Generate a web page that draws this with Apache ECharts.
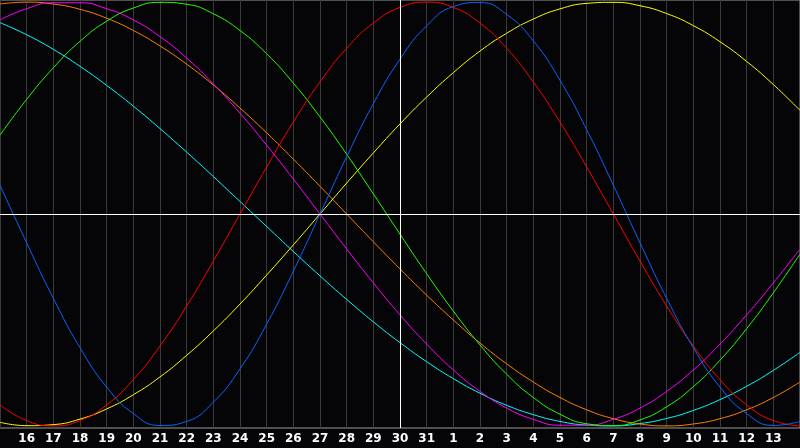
<!DOCTYPE html>
<html>
<head>
<meta charset="utf-8">
<script src="https://cdn.jsdelivr.net/npm/echarts@6/dist/echarts.min.js"></script>
<style>
html,body{margin:0;padding:0;background:#050507;}
#c{width:800px;height:448px;}
</style>
</head>
<body>
<div id="c"></div>
<script>
// Day labels (15th of one month to 14th of the next)
const days = ['15','16','17','18','19','20','21','22','23','24','25','26','27','28','29','30','31',
  '1','2','3','4','5','6','7','8','9','10','11','12','13','14'];
const today = '30';

// Cycle values, one per day
const cyan53 = [0.903,0.846,0.777,0.697,0.607,0.509,0.403,0.292,0.177,0.059,-0.059,-0.177,-0.292,-0.403,-0.509,-0.607,-0.697,-0.777,-0.846,-0.903,-0.947,-0.979,-0.996,-1.000,-0.989,-0.965,-0.927,-0.876,-0.813,-0.738,-0.653];
const orange48 = [0.991,1.000,0.991,0.966,0.924,0.866,0.793,0.707,0.609,0.500,0.383,0.259,0.131,0.000,-0.131,-0.259,-0.383,-0.500,-0.609,-0.707,-0.793,-0.866,-0.924,-0.966,-0.991,-1.000,-0.991,-0.966,-0.924,-0.866,-0.793];
const magenta38 = [0.916,0.969,0.997,0.997,0.969,0.916,0.837,0.736,0.614,0.476,0.325,0.165,0.000,-0.165,-0.325,-0.476,-0.614,-0.736,-0.837,-0.916,-0.969,-0.997,-0.997,-0.969,-0.916,-0.837,-0.736,-0.614,-0.476,-0.325,-0.165];
const yellow43 = [-0.983,-0.999,-0.994,-0.968,-0.920,-0.853,-0.769,-0.667,-0.552,-0.425,-0.288,-0.146,0.000,0.146,0.288,0.425,0.552,0.667,0.769,0.853,0.920,0.968,0.994,0.999,0.983,0.946,0.889,0.813,0.720,0.611,0.489];
const green33 = [0.372,0.541,0.690,0.815,0.910,0.972,0.999,0.990,0.945,0.866,0.756,0.618,0.458,0.282,0.095,-0.095,-0.282,-0.458,-0.618,-0.756,-0.866,-0.945,-0.990,-0.999,-0.972,-0.910,-0.815,-0.690,-0.541,-0.372,-0.189];
const red28 = [-0.901,-0.975,-1.000,-0.975,-0.901,-0.782,-0.623,-0.434,-0.222,0.000,0.222,0.434,0.623,0.782,0.901,0.975,1.000,0.975,0.901,0.782,0.623,0.434,0.222,0.000,-0.222,-0.434,-0.623,-0.782,-0.901,-0.975,-1.000];
const blue23 = [0.136,-0.136,-0.398,-0.631,-0.817,-0.942,-0.998,-0.979,-0.888,-0.731,-0.520,-0.270,0.000,0.270,0.520,0.731,0.888,0.979,0.998,0.942,0.817,0.631,0.398,0.136,-0.136,-0.398,-0.631,-0.817,-0.942,-0.998,-0.979];

const seriesDefs = [
  {name:'53', data:cyan53, color:'#00ffff'},
  {name:'48', data:orange48, color:'#ff8000'},
  {name:'38', data:magenta38, color:'#ff00ff'},
  {name:'43', data:yellow43, color:'#ffff00'},
  {name:'33', data:green33, color:'#22ff00'},
  {name:'28', data:red28, color:'#ff0000'},
  {name:'23', data:blue23, color:'#0a64ff'}
];

const chart = echarts.init(document.getElementById('c'), null, {renderer:'canvas'});
const series = seriesDefs.map(function(s){
  return {
    type:'line', name:s.name, data:s.data, smooth:true, showSymbol:false, silent:true,
    lineStyle:{color:s.color, width:1}, itemStyle:{color:s.color}, animation:false
  };
});
series.push({
  type:'line', data:[], silent:true, animation:false,
  markLine:{
    silent:true, symbol:'none', animation:false,
    label:{show:false},
    lineStyle:{color:'#ffffff', width:1, type:'solid'},
    data:[{xAxis: today}, {yAxis: 0}]
  }
});

chart.setOption({
  backgroundColor:'#050507',
  animation:false,
  grid:{left:0, right:0, top:0, bottom:20, show:true, borderColor:'#9a9a9a', borderWidth:1, backgroundColor:'#050507'},
  xAxis:{
    type:'category', data:days, boundaryGap:false,
    axisLine:{show:false}, axisTick:{show:false},
    axisLabel:{
      color:'#ffffff', fontWeight:'bold', fontSize:12, fontFamily:'DejaVu Sans', margin:5,
      interval:function(i){ return i>0 && i<days.length-1; }
    },
    splitLine:{show:true, interval:0, lineStyle:{color:'#3a3a3a', width:1}}
  },
  yAxis:{
    type:'value', min:-1.01, max:1.01,
    axisLine:{show:false}, axisTick:{show:false}, axisLabel:{show:false}, splitLine:{show:false}
  },
  series:series
});
</script>
</body>
</html>
